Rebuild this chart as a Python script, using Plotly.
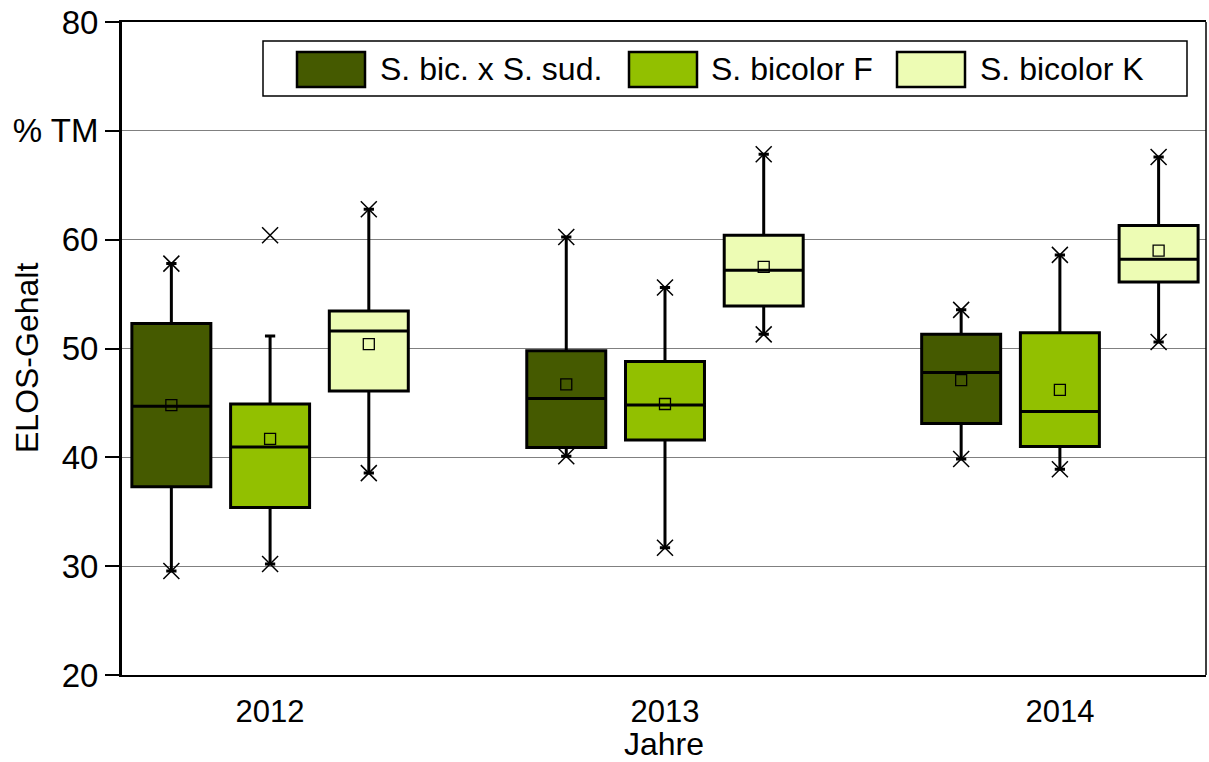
import plotly.graph_objects as go

years = ["2012", "2013", "2014"]
series = ["S. bic. x S. sud.", "S. bicolor F", "S. bicolor K"]
colors = ["#455a00", "#92c000", "#edfcb4"]

q1 = [[37.3, 40.9, 43.1], [35.4, 41.6, 41.0], [46.1, 53.9, 56.1]]
median = [[44.7, 45.4, 47.8], [40.95, 44.8, 44.2], [51.6, 57.2, 58.2]]
q3 = [[52.3, 49.8, 51.3], [44.9, 48.8, 51.45], [53.45, 60.4, 61.3]]
mean = [[44.8, 46.7, 47.1], [41.7, 44.9, 46.2], [50.4, 57.5, 59.0]]
whisk_lo = [[29.55, 40.1, 39.85], [30.2, 31.7, 38.9], [38.55, 51.3, 50.6]]
whisk_hi = [[57.8, 60.25, 53.55], [51.15, 55.6, 58.6], [62.8, 67.85, 67.6]]
pt_min = [[29.55, 40.1, 39.85], [30.2, 31.7, 38.9], [38.55, 51.3, 50.6]]
pt_max = [[57.8, 60.25, 53.55], [60.4, 55.6, 58.6], [62.8, 67.85, 67.6]]

ytick_vals = [20, 30, 40, 50, 60, 70, 80]
ytick_text = ["20", "30", "40", "50", "60", "% TM", "80"]
y_title = "ELOS-Gehalt"
x_title = "Jahre"

FONT = "Liberation Sans, Arial, sans-serif"

offsets = [-0.25, 0.0, 0.25]
fig = go.Figure()
for j, name in enumerate(series):
    xs = [i + offsets[j] for i in range(len(years))]
    fig.add_trace(go.Box(
        x=xs, q1=q1[j], median=median[j], q3=q3[j],
        lowerfence=whisk_lo[j], upperfence=whisk_hi[j],
        width=0.2, whiskerwidth=0.13, fillcolor=colors[j],
        line=dict(color="black", width=3), boxpoints=False,
        name=name, showlegend=False, hoverinfo="skip"))
for j, name in enumerate(series):
    xs = [i + offsets[j] for i in range(len(years))]
    fig.add_trace(go.Scatter(
        x=xs + xs, y=pt_min[j] + pt_max[j], mode="markers",
        marker=dict(symbol="x-thin-open", size=16, color="black",
                    line=dict(color="black", width=1.5)),
        showlegend=False, hoverinfo="skip"))
    fig.add_trace(go.Scatter(
        x=xs, y=mean[j], mode="markers",
        marker=dict(symbol="square-open", size=11, color="black",
                    line=dict(color="black", width=1.3)),
        showlegend=False, hoverinfo="skip"))

W, H = 1209, 762
L, R, T, B = 122, 1206, 22, 675
pw, ph = R - L, B - T


def px(xp):
    return (xp - L) / pw


def py(yp):
    return (B - yp) / ph


shapes = []
annotations = []
shapes.append(dict(type="line", xref="paper", yref="paper", x0=1, x1=1, y0=0, y1=1,
                   line=dict(color="black", width=1.5)))
shapes.append(dict(type="rect", xref="paper", yref="paper", x0=px(263), x1=px(1187),
                   y0=py(96), y1=py(41), line=dict(color="black", width=1.5),
                   fillcolor="white", layer="above"))
sw_x = [297, 629, 897]
tx_x = [378, 709, 978]
for j, name in enumerate(series):
    shapes.append(dict(type="rect", xref="paper", yref="paper", x0=px(sw_x[j]), x1=px(sw_x[j] + 68),
                       y0=py(87), y1=py(52), line=dict(color="black", width=2.5),
                       fillcolor=colors[j], layer="above"))
    annotations.append(dict(xref="paper", yref="paper", x=px(tx_x[j]), y=py(69.5),
                            xanchor="left", yanchor="middle", showarrow=False, text=name,
                            font=dict(family=FONT, size=32, color="black")))
annotations.append(dict(xref="paper", yref="paper", x=px(27), y=py(358),
                        xanchor="center", yanchor="middle", showarrow=False, text=y_title,
                        textangle=-90, font=dict(family=FONT, size=32, color="black")))

fig.update_layout(
    width=W, height=H, margin=dict(l=L, r=W - R, t=T, b=H - B),
    paper_bgcolor="white", plot_bgcolor="white",
    shapes=shapes, annotations=annotations,
    xaxis=dict(range=[-0.375, 2.37], tickvals=list(range(len(years))), ticktext=years,
               showgrid=False, zeroline=False, showline=True, linecolor="black", linewidth=2,
               mirror=True, ticks="", automargin=False, ticklabelstandoff=8,
               tickfont=dict(family=FONT, size=31, color="black"),
               title=dict(text=x_title, font=dict(family=FONT, size=32, color="black"), standoff=10)),
    yaxis=dict(range=[20, 80], tickvals=ytick_vals, ticktext=ytick_text,
               showgrid=True, gridcolor="#808080", gridwidth=1, zeroline=False,
               showline=True, linecolor="black", linewidth=3, ticks="outside", ticklen=14,
               tickwidth=2, tickcolor="black", automargin=False, ticklabeloverflow="allow",
               tickfont=dict(family=FONT, size=33, color="black")),
)
fig.write_html("out.html", config={"displayModeBar": False},
               post_script="document.body.style.margin='0';document.body.style.padding='0';")
